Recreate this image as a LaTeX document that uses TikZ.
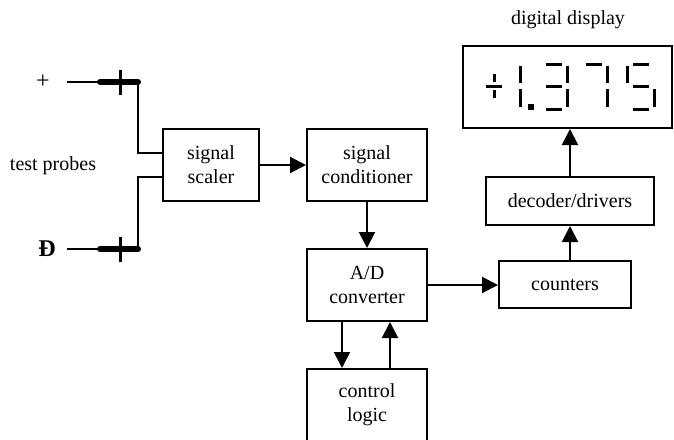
\documentclass[tikz,border=0pt]{standalone}
\usepackage{fontspec}
\setmainfont{Liberation Serif}
\usetikzlibrary{arrows.meta}
\tikzset{
	block/.style = {draw, line width=1pt, align=center, inner sep=0pt},
	arr/.style = {line width=1pt, -{Triangle[length=8pt,width=8pt]}},
	wire/.style = {line width=1pt},
	grip/.style = {line width=3pt, line cap=round},
	tick/.style = {line width=1.5pt},
	seg/.style = {line width=1.5pt}
}
\begin{document}
\begin{tikzpicture}[x=0.5pt, y=-0.5pt]
\clip (0,0) rectangle (674,439);
\node[block, minimum width=48pt, minimum height=36pt] (scaler) at (211,165) {signal\\scaler};
\node[block, minimum width=60pt, minimum height=36pt] (cond) at (367,165) {signal\\conditioner};
\node[block, minimum width=60pt, minimum height=36pt] (ad) at (367,285) {A/D\\converter};
\node[block, minimum width=60pt, minimum height=36pt] (ctrl) at (367,405) {control\\logic};
\node[block, minimum width=66pt, minimum height=23.5pt] (counters) at (565,284.5) {counters};
\node[block, minimum width=84pt, minimum height=24pt] (dec) at (570,201) {decoder/drivers};
\node[block, minimum width=104.5pt, minimum height=41pt] (disp) at (567.5,87) {};
\node (displabel) at (568,20) {digital display};
\node (probes) at (53,166) {test probes};
\node[font=\large] (plus) at (43,82) {+};
\node[font=\large] (minus) at (47,249) {\textbf{Đ}};
\draw[arr] (scaler) -- (cond);
\draw[arr] (cond) -- (ad);
\draw[arr] (ad.east) -- (ad.east -| counters.west);
\draw[arr] (counters.north -| dec.south) -- (dec.south);
\draw[arr] (dec.north) -- (dec.north |- disp.south);
\draw[arr] ([xshift=-12.5pt]ad.south) -- ([xshift=-12.5pt]ctrl.north);
\draw[arr] ([xshift=11.5pt]ctrl.north) -- ([xshift=11.5pt]ad.south);
\foreach \y/\s in {82/a, 249/b}
{
	\coordinate (tip\s) at (67,\y);
	\coordinate (bar\s) at (100,\y);
	\coordinate (end\s) at (138,\y);
	\draw[wire] (tip\s) -- (bar\s);
	\draw[grip] (bar\s) -- (end\s);
	\draw[tick] (120,\y-12) -- (120,\y+13);
}
\draw[wire] (enda) |- ([yshift=6pt]scaler.west);
\draw[wire] (endb) |- ([yshift=-6pt]scaler.west);
\foreach \xa/\ya/\xb/\yb in {486/86/502/86, 494/74/494/82, 494/90/494/98,
	520/66/520/83, 520/89/520/107,
	546/64/562/64, 546/86/562/86, 546/109/562/109, 567/66/567/83, 567/89/567/107,
	586/64/602/64, 607/66/607/83, 607/89/607/107,
	633/64/649/64, 633/86/649/86, 633/109/649/109, 627/66/627/83, 654/89/654/107}
	\draw[seg] (\xa,\ya) -- (\xb,\yb);
\fill (528,104) rectangle (534,110);
\end{tikzpicture}
\end{document}
